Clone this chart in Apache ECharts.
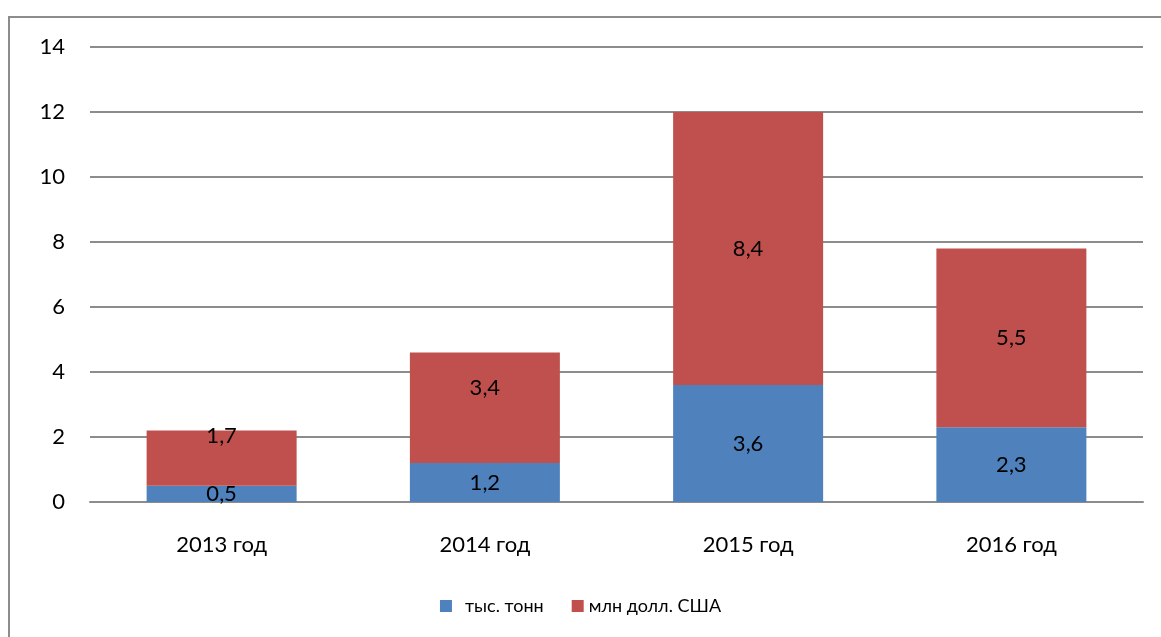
<!DOCTYPE html>
<html><head><meta charset="utf-8">
<script src="https://cdn.jsdelivr.net/npm/echarts@6/dist/echarts.min.js"></script>
<style>html,body{margin:0;padding:0;background:#fff}#c{width:1161px;height:637px}</style>
</head><body><div id="c"></div>
<script>
const categories = ['2013 год', '2014 год', '2015 год', '2016 год'];
const seriesNames = ['тыс. тонн', 'млн долл. США'];
const tonnes = [0.5, 1.2, 3.6, 2.3];
const usdMillions = [1.7, 3.4, 8.4, 5.5];
const yTicks = [0, 2, 4, 6, 8, 10, 12, 14];

const font = 'Lato, "Open Sans", sans-serif';
const fmt = p => String(p.value).replace('.', ',');
// Excel placed two red labels above segment centre
const redShift = {0: -22, 1: -20};

const chart = echarts.init(document.getElementById('c'));
chart.setOption({
  animation: false,
  graphic: [{type: 'rect', shape: {x: 9, y: 17, width: 1300, height: 800},
    style: {fill: 'none', stroke: '#8c8c8c', lineWidth: 2}, silent: true}],
  grid: {left: 90, right: 18, top: 47, bottom: 135},
  legend: {bottom: 17, left: 'center', itemWidth: 12, itemHeight: 12, itemGap: 28,
    icon: 'rect', textStyle: {fontFamily: font, fontSize: 18, color: '#000'},
    data: [{name: seriesNames[0], textStyle: {padding: [0, 0, 0, 8]}}, {name: seriesNames[1]}]},
  xAxis: {type: 'category', data: categories,
    axisLine: {lineStyle: {color: '#8c8c8c', width: 2}}, axisTick: {show: false},
    axisLabel: {fontFamily: font, fontSize: 22, color: '#000', margin: 32}},
  yAxis: {type: 'value', min: yTicks[0], max: yTicks[yTicks.length - 1], interval: 2,
    axisLine: {show: false}, axisTick: {show: false},
    axisLabel: {fontFamily: font, fontSize: 22, color: '#000', margin: 25},
    splitLine: {lineStyle: {color: '#8c8c8c', width: 2}}},
  series: [
    {name: seriesNames[0], type: 'bar', stack: 's', barWidth: 150, data: tonnes,
      itemStyle: {color: '#4f81bd'},
      label: {show: true, position: 'inside', formatter: fmt, fontFamily: font, fontSize: 22, color: '#000'}},
    {name: seriesNames[1], type: 'bar', stack: 's', barWidth: 150,
      data: usdMillions.map((v, i) => redShift[i] !== undefined ? {value: v, label: {offset: [0, redShift[i]]}} : v),
      itemStyle: {color: '#c0504d'},
      label: {show: true, position: 'inside', formatter: fmt, fontFamily: font, fontSize: 22, color: '#000'}}
  ]
});
</script></body></html>
